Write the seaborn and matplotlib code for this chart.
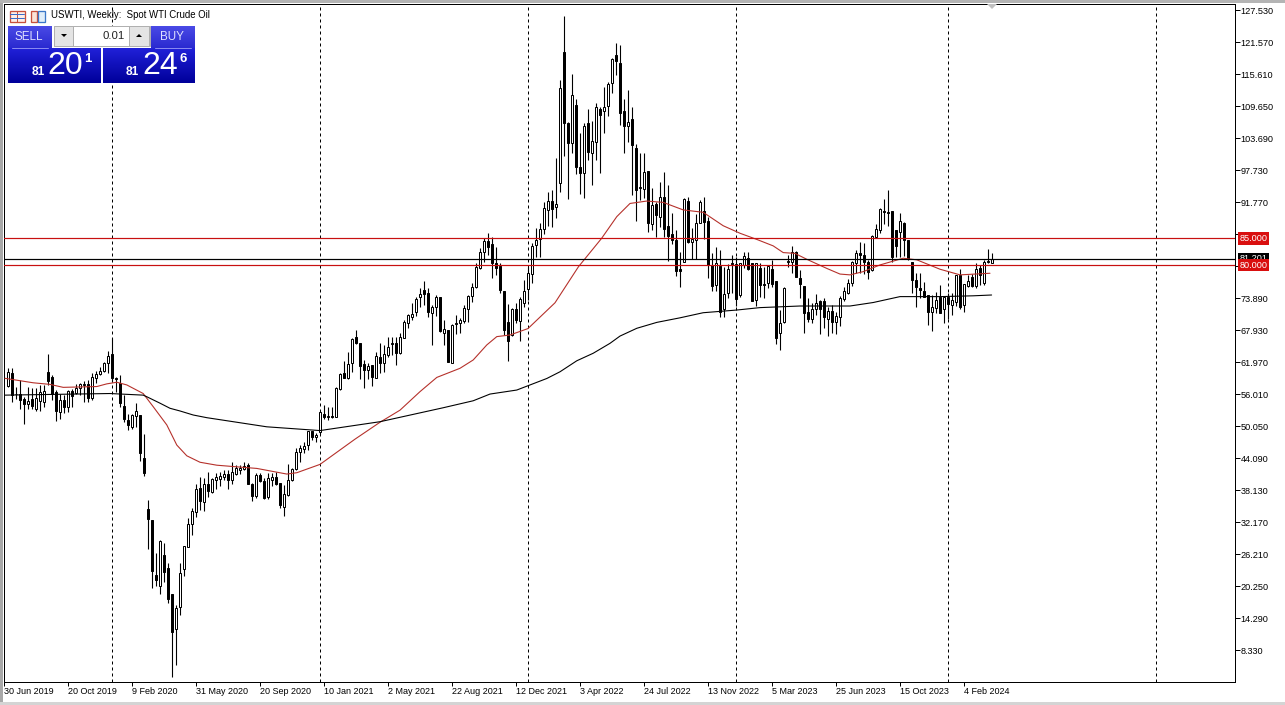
import numpy as np
import pandas as pd
import matplotlib
matplotlib.use('Agg')
import matplotlib.pyplot as plt
from matplotlib.patches import Rectangle, Polygon
import seaborn as sns

# weekly candles
opens = [
    57.5, 60.0, 56.1, 56.1, 55.1, 54.1, 55.0, 53.3, 54.8, 54.6,
    60.05, 59.1, 56.45, 52.7, 54.9, 53.65, 56.65, 56.25, 57.05, 57.6,
    57.8, 55.3, 59.05, 59.75, 60.35, 61.7, 63.45, 58.9, 58.0, 53.8,
    51.2, 49.95, 52.0, 52.1, 44.1, 34.6, 32.55, 22.3, 20.3, 26.0,
    23.55, 18.75, 12.3, 16.4, 23.35, 27.6, 31.75, 34.1, 38.45, 35.9,
    39.25, 37.8, 40.05, 40.25, 40.55, 41.05, 40.0, 41.1, 41.9, 42.05,
    42.8, 39.3, 37.0, 41.0, 39.8, 36.75, 40.05, 40.6, 39.4, 34.9,
    37.2, 39.95, 42.05, 45.15, 45.75, 46.5, 49.2, 47.95, 48.95, 52.3,
    51.8, 51.9, 51.8, 56.95, 59.85, 58.95, 61.85, 66.7, 65.6, 61.6,
    60.5, 61.4, 59.05, 62.85, 61.85, 63.35, 65.4, 65.5, 63.6, 66.5,
    69.2, 70.4, 71.35, 74.15, 75.3, 74.75, 71.15, 72.3, 74.0, 67.45,
    67.95, 61.85, 69.05, 69.2, 69.55, 71.8, 74.25, 76.0, 79.55, 82.5,
    84.5, 83.95, 80.35, 79.85, 75.2, 69.35, 67.0, 71.9, 69.6, 73.0,
    75.5, 78.35, 83.7, 84.8, 86.75, 90.25, 91.95, 90.9, 95.35, 119.65,
    106.55, 102.8, 109.85, 98.25, 97.1, 106.4, 100.95, 103.0, 109.1, 108.8,
    109.7, 113.85, 119.15, 117.6, 108.7, 106.0, 107.2, 101.75, 94.4, 94.2,
    97.6, 87.6, 91.4, 89.05, 92.65, 87.3, 85.8, 84.7, 79.35, 80.65,
    92.0, 84.4, 84.7, 87.9, 90.1, 88.3, 80.05, 76.3, 79.85, 71.85,
    74.75, 80.5, 80.2, 74.4, 80.05, 81.3, 80.35, 73.5, 79.55, 76.5,
    76.6, 79.3, 77.05, 67.3, 69.35, 80.65, 80.65, 82.4, 77.6, 76.1,
    71.2, 70.05, 71.8, 73.35, 73.4, 69.9, 71.45, 69.5, 70.4, 73.65,
    74.9, 76.75, 80.35, 82.35, 81.9, 80.65, 79.1, 85.3, 86.55, 90.15,
    89.85, 90.1, 86.55, 86.25, 87.95, 84.7, 80.55, 77.25, 75.7, 75.25,
    74.45, 71.3, 72.0, 74.0, 71.9, 74.15, 72.6, 73.2, 78.2, 72.6,
    76.15, 77.85, 76.15, 79.55, 76.6, 80.6, 80.4,
]
highs = [
    60.8, 60.8, 57.4, 58.7, 55.5, 57.4, 57.1, 57.1, 57.7, 57.7,
    63.5, 59.55, 56.8, 56.1, 55.8, 56.8, 56.9, 57.8, 58.0, 58.45,
    58.6, 59.85, 60.35, 61.1, 62.0, 64.0, 66.4, 59.25, 59.55, 55.8,
    52.3, 52.3, 54.3, 52.1, 48.6, 36.25, 32.55, 26.35, 28.8, 28.3,
    24.5, 18.75, 16.7, 24.6, 27.7, 33.0, 34.7, 39.25, 40.6, 40.3,
    41.55, 40.3, 41.25, 41.55, 41.85, 41.85, 43.3, 42.8, 42.8, 43.4,
    43.2, 39.5, 41.35, 41.25, 40.3, 41.25, 41.35, 41.55, 39.4, 39.05,
    43.0, 42.2, 46.0, 46.5, 47.1, 49.2, 49.2, 48.7, 52.9, 53.95,
    53.65, 53.65, 57.4, 59.85, 62.2, 63.9, 66.4, 67.95, 65.6, 62.35,
    61.85, 61.4, 63.75, 65.45, 65.15, 66.7, 66.55, 66.7, 67.4, 69.8,
    71.0, 72.9, 74.0, 75.8, 77.05, 75.7, 72.6, 74.45, 74.0, 69.8,
    67.95, 69.05, 70.7, 70.1, 72.6, 74.45, 76.6, 80.35, 83.15, 85.0,
    85.95, 85.3, 83.45, 80.35, 75.2, 72.8, 71.95, 72.9, 74.0, 77.25,
    79.7, 84.05, 86.85, 87.8, 91.8, 93.7, 94.0, 99.9, 114.5, 126.4,
    106.7, 115.7, 110.9, 104.55, 106.4, 109.05, 106.85, 110.25, 109.4, 113.25,
    114.2, 118.65, 121.3, 121.0, 110.9, 112.65, 109.5, 102.5, 100.85, 100.85,
    97.6, 94.3, 91.85, 95.55, 97.3, 94.95, 89.65, 86.55, 82.4, 92.45,
    92.65, 86.85, 89.5, 92.15, 92.75, 89.05, 82.2, 83.3, 82.8, 79.7,
    80.15, 81.9, 81.6, 80.5, 82.5, 82.5, 80.35, 80.5, 80.35, 79.6,
    80.05, 81.0, 77.05, 71.65, 75.9, 81.9, 83.6, 82.65, 79.1, 76.1,
    73.8, 72.9, 74.6, 73.55, 73.8, 72.15, 72.6, 71.35, 74.25, 76.0,
    77.45, 80.8, 82.85, 84.4, 84.05, 81.0, 85.6, 87.7, 90.6, 92.25,
    94.0, 90.1, 86.55, 89.65, 88.1, 84.7, 80.65, 78.5, 78.6, 76.95,
    74.45, 74.45, 75.1, 76.25, 74.15, 74.75, 74.75, 78.2, 79.2, 76.45,
    78.2, 78.3, 80.35, 80.05, 81.0, 83.0, 82.2,
]
lows = [
    57.4, 54.6, 55.0, 53.3, 50.4, 53.3, 53.3, 52.9, 52.85, 53.65,
    57.7, 54.9, 51.05, 51.35, 52.4, 52.7, 53.65, 55.95, 55.8, 54.6,
    54.6, 54.9, 58.0, 59.55, 60.05, 59.85, 58.3, 56.45, 53.65, 50.85,
    49.3, 49.4, 49.95, 43.6, 40.75, 27.15, 19.95, 20.25, 18.75, 21.05,
    17.15, 3.35, 5.55, 14.85, 22.1, 27.6, 29.75, 33.15, 34.4, 34.2,
    36.9, 37.65, 38.3, 38.9, 40.0, 38.3, 39.25, 40.95, 41.05, 41.85,
    39.2, 36.0, 36.6, 39.55, 36.4, 36.4, 38.95, 39.05, 34.7, 33.35,
    37.0, 39.85, 41.85, 43.4, 44.95, 45.6, 47.45, 47.15, 48.6, 51.3,
    51.2, 51.5, 51.65, 56.75, 58.9, 58.75, 60.2, 65.3, 58.75, 57.2,
    58.75, 57.55, 58.9, 60.0, 60.2, 62.85, 63.3, 61.4, 63.45, 66.4,
    68.25, 69.8, 70.55, 72.3, 72.6, 70.4, 65.15, 70.55, 67.6, 65.15,
    62.0, 61.7, 67.2, 67.45, 69.2, 69.5, 73.2, 75.7, 79.3, 80.65,
    81.9, 77.55, 78.2, 74.9, 67.0, 62.2, 66.8, 69.2, 65.95, 72.15,
    73.5, 76.65, 81.6, 81.6, 85.8, 87.3, 87.2, 88.85, 93.7, 100.4,
    92.25, 100.95, 97.0, 93.25, 92.6, 99.6, 94.95, 99.6, 97.1, 104.55,
    107.85, 112.0, 115.4, 106.1, 100.95, 103.0, 93.05, 88.3, 92.15, 92.45,
    86.25, 86.55, 85.3, 87.2, 85.3, 80.85, 83.95, 78.0, 76.0, 80.65,
    84.2, 81.1, 81.1, 87.8, 84.8, 77.55, 75.2, 75.2, 70.4, 70.4,
    73.8, 74.75, 72.4, 74.15, 79.4, 79.1, 73.3, 72.4, 74.0, 73.8,
    75.7, 76.0, 65.3, 64.2, 69.15, 79.6, 78.6, 77.75, 73.8, 67.45,
    69.5, 69.15, 70.7, 67.15, 68.25, 66.9, 67.3, 67.15, 68.7, 73.4,
    74.65, 76.15, 78.5, 78.5, 78.35, 77.45, 79.0, 85.2, 85.95, 87.6,
    87.35, 80.65, 81.45, 81.6, 81.7, 81.0, 74.75, 72.3, 73.8, 74.0,
    68.85, 67.8, 71.05, 71.05, 69.3, 70.0, 70.7, 72.4, 71.8, 71.35,
    76.0, 76.0, 75.7, 76.3, 76.3, 80.35, 80.35,
]
closes = [
    60.2, 55.8, 56.0, 54.9, 54.1, 54.8, 53.8, 55.2, 56.45, 56.6,
    58.4, 56.1, 52.9, 54.85, 53.65, 56.6, 55.7, 57.05, 57.8, 57.8,
    55.2, 59.25, 59.7, 60.35, 61.7, 63.15, 59.05, 58.75, 54.3, 51.35,
    50.25, 52.1, 52.9, 45.1, 41.35, 32.8, 23.1, 21.35, 28.65, 22.85,
    17.9, 11.7, 16.1, 22.6, 27.7, 31.8, 34.25, 38.3, 36.1, 39.25,
    37.95, 40.1, 40.55, 40.75, 41.05, 40.0, 41.5, 42.3, 42.2, 42.65,
    39.2, 37.1, 41.0, 39.8, 36.7, 40.3, 40.55, 39.25, 35.35, 37.4,
    40.0, 42.0, 45.15, 45.9, 46.4, 49.2, 48.05, 48.4, 52.65, 51.8,
    51.9, 51.7, 57.2, 59.65, 58.9, 61.6, 66.25, 65.6, 61.3, 60.5,
    61.2, 59.25, 63.1, 61.85, 63.45, 64.8, 65.5, 63.7, 66.55, 69.5,
    70.65, 71.0, 73.7, 74.6, 74.7, 71.35, 72.3, 74.0, 67.75, 68.05,
    62.0, 68.85, 69.2, 69.8, 71.95, 74.25, 75.9, 79.7, 82.5, 84.5,
    83.45, 80.35, 79.55, 75.4, 67.95, 65.95, 71.8, 69.8, 73.7, 75.2,
    78.5, 83.55, 84.7, 86.75, 90.6, 92.0, 90.4, 91.35, 112.95, 106.4,
    102.8, 111.7, 98.35, 97.25, 105.9, 101.15, 103.15, 109.4, 108.05, 109.5,
    113.75, 118.4, 118.1, 108.4, 106.0, 106.6, 102.4, 94.0, 94.5, 97.3,
    87.8, 91.2, 89.35, 92.65, 86.75, 85.45, 84.7, 78.9, 79.0, 92.25,
    84.4, 84.8, 87.9, 91.75, 88.1, 80.05, 76.1, 80.35, 71.35, 74.65,
    79.3, 80.2, 73.75, 80.35, 81.65, 79.2, 73.4, 80.35, 76.3, 76.25,
    79.85, 76.5, 66.5, 69.15, 75.7, 80.8, 82.5, 77.85, 76.5, 71.15,
    70.0, 71.8, 72.9, 71.85, 70.4, 71.55, 69.5, 70.55, 73.8, 75.2,
    76.6, 80.55, 82.2, 81.9, 80.65, 78.7, 85.5, 86.75, 90.45, 89.85,
    89.8, 81.45, 83.6, 88.2, 84.7, 81.1, 77.25, 76.0, 75.4, 74.0,
    71.3, 72.15, 73.5, 71.15, 74.0, 72.8, 73.5, 78.2, 72.3, 76.45,
    77.05, 76.2, 79.25, 78.2, 80.55, 80.7, 81.2,
]

# moving averages
red_ma_bar = [-0.75, 6.3, 10.5, 13.8, 22.2, 24.7, 27.2, 29.7, 33.8, 36.3, 39.7, 42.2, 44.7, 48,
              52.2, 56.3, 62.2, 69.7, 72.2, 78, 86.75, 93, 98, 103, 107.2, 113, 116.3, 119.7,
              122.2, 125.5, 130, 136.75, 142.6, 148.4, 152.2, 155.5, 159.7, 163.8, 168.8, 173.8,
              178.8, 183, 187.2, 191.3, 193.8, 196.75, 199.7, 204.7, 208, 210.5, 213.8, 218,
              223.8, 227.2, 233, 238, 245.5]
red_ma_val = [58.93, 58.1, 57.8, 57.25, 57.4, 57.9, 58.2, 57.7, 56.1, 53.65, 50.25, 46.5, 44.5, 43.3,
              42.75, 42.5, 42.15, 41.1, 41.35, 42.9, 47.6, 50.75, 53.0, 56.45, 59.1, 60.8, 62.35, 65.15,
              66.7, 67.0, 68.2, 73.0, 79.7, 85.0, 89.05, 91.5, 91.95, 91.7, 90.3, 89.85,
              87.35, 85.95, 84.8, 83.6, 82.35, 82.2, 81.1, 79.4, 78.35, 78.2, 78.8, 80.05,
              81.3, 81.0, 79.25, 78.2, 78.5]
black_ma_bar = [-0.75, 25.5, 33.8, 34.7, 38, 40.5, 43, 46.3, 49.7, 64.7, 78, 93, 108.8, 116.3, 120.5, 127.2,
                134.7, 138, 142.2, 146.3, 150.5, 153, 157.2, 162.2, 168, 173.8, 182.2, 188, 198,
                210.5, 216.3, 223, 233, 241.3, 245.9]
black_ma_val = [55.8, 56.1, 55.8, 55.5, 54.3, 53.35, 52.85, 52.1, 51.6, 49.9, 49.2, 50.85, 53.45, 54.75, 56.0, 56.75,
                58.9, 60.15, 62.2, 63.6, 65.45, 66.8, 68.25, 69.35, 70.2, 71.15, 71.65, 72.1, 72.4,
                72.4, 73.05, 74.15, 74.15, 74.3, 74.45]

# axis labels and levels
date_labels = ['30 Jun 2019', '20 Oct 2019', '9 Feb 2020', '31 May 2020', '20 Sep 2020', '10 Jan 2021',
               '2 May 2021', '22 Aug 2021', '12 Dec 2021', '3 Apr 2022', '24 Jul 2022', '13 Nov 2022',
               '5 Mar 2023', '25 Jun 2023', '15 Oct 2023', '4 Feb 2024']
date_bars = [-1, 15, 31, 47, 63, 79, 95, 111, 127, 143, 159, 175, 191, 207, 223, 239]
year_bars = [26, 78, 130, 182, 235, 287]
price_ticks = [127.53, 121.57, 115.61, 109.65, 103.69, 97.73, 91.77, 85.81, 79.85, 73.89, 67.93,
               61.97, 56.01, 50.05, 44.09, 38.13, 32.17, 26.21, 20.25, 14.29, 8.33]
red_levels = [85.0, 80.0]
last_price = 81.201

sns.set_style('white')
plt.rcParams['font.family'] = ['Liberation Sans', 'DejaVu Sans']

W, H = 1285, 705
fig = plt.figure(figsize=(W / 100, H / 100), dpi=100, facecolor='white')
ax = fig.add_axes([4 / W, (H - 682) / H, (1235 - 4) / W, (682 - 4) / H])
px = 0.72  # one pixel in points

# vertical year separators
for b in year_bars:
    ax.axvline(b, color='black', lw=px, ls=(0, (3, 3)), zorder=1)

# candles
bars = pd.DataFrame({'open': opens, 'high': highs, 'low': lows, 'close': closes})
bars['bar'] = bars.index
up = bars[bars['close'] >= bars['open']]
down = bars[bars['close'] < bars['open']]
ax.vlines(bars['bar'], bars['low'], bars['high'], color='black', lw=px * 1.1, zorder=2)
ax.bar(up['bar'], up['close'] - up['open'], bottom=up['open'], width=0.6,
       facecolor='white', edgecolor='black', linewidth=px, zorder=3)
ax.bar(down['bar'], down['close'] - down['open'], bottom=down['open'], width=0.6,
       facecolor='black', edgecolor='black', linewidth=px, zorder=3)

# moving averages
sns.lineplot(x=red_ma_bar, y=red_ma_val, ax=ax, color='#b5302a', lw=px * 1.1, estimator=None, sort=False, zorder=4)
sns.lineplot(x=black_ma_bar, y=black_ma_val, ax=ax, color='black', lw=px * 1.1, estimator=None, sort=False, zorder=4)

# horizontal levels
ax.axhline(last_price, color='black', lw=px * 1.2, zorder=5)
for lv in red_levels:
    ax.axhline(lv, color='#c81010', lw=px * 1.2, zorder=5)

ax.set_xlim(-1, 306.75)
ax.set_ylim(2.37, 128.65)
ax.set_xlabel('')
ax.set_ylabel('')

ax.yaxis.tick_right()
ax.set_yticks(price_ticks)
ax.set_yticklabels([f'{p:.3f}' for p in price_ticks])
ax.set_xticks(date_bars)
ax.set_xticklabels(date_labels, ha='left')
ax.tick_params(axis='y', length=3.6, width=px, color='black', labelsize=6.6, labelcolor='black', pad=0.6, right=True)
ax.tick_params(axis='x', length=3, width=px, color='black', labelsize=6.5, labelcolor='black', pad=0.8, bottom=True)
for side in ax.spines.values():
    side.set_linewidth(px)
    side.set_color('black')

# price tags on the right scale
tag = ax.get_yaxis_transform()
ax.text(1.0036, last_price, f'{last_price:.3f}', transform=tag, color='white', fontsize=6.6, va='center',
        bbox=dict(fc='black', ec='none', pad=1.2), zorder=6, clip_on=False)
for lv in red_levels:
    ax.text(1.0036, lv, f'{lv:.3f}', transform=tag, color='white', fontsize=6.6, va='center',
            bbox=dict(fc='#d90f0f', ec='none', pad=1.2), zorder=7, clip_on=False)

# window furniture and trade panel, in screen pixels
ov = fig.add_axes([0, 0, 1, 1], facecolor='none')
ov.axis('off')


def gradient(x0, y0, x1, y1, top, bottom):
    c0 = np.array(matplotlib.colors.to_rgb(top))
    c1 = np.array(matplotlib.colors.to_rgb(bottom))
    t = np.linspace(0, 1, 32)[:, None, None]
    ov.imshow(c0[None, None, :] * (1 - t) + c1[None, None, :] * t, extent=(x0, x1, y1, y0),
              aspect='auto', zorder=2, interpolation='bilinear')


ov.add_patch(Rectangle((0, 0), 3, H, fc='#a8a8a8', ec='none'))
ov.add_patch(Rectangle((0, 0), W, 3, fc='#b4b4b4', ec='none'))
ov.add_patch(Rectangle((0, 702), W, 3, fc='#d4d4d4', ec='none'))
ov.add_patch(Polygon([(987, 4), (997, 4), (992, 9)], fc='#c0c0c0', ec='none'))

# small toolbar icons
ov.add_patch(Rectangle((9.5, 10.5), 15, 11, fc='#fdeee8', ec='#c8503c', lw=px * 1.3))
ov.plot([17, 17], [10.5, 21.5], color='#c8503c', lw=px)
ov.plot([10, 24], [14.2, 14.2], color='#3c6cc8', lw=px)
ov.plot([10, 24], [17.8, 17.8], color='#3c6cc8', lw=px)
ov.add_patch(Rectangle((30.5, 10.5), 6, 11, fc='#fbe4d8', ec='#c8503c', lw=px * 1.3))
ov.add_patch(Rectangle((37.5, 10.5), 7, 11, fc='#e0eefa', ec='#3c78c8', lw=px * 1.3))
ov.text(51, 15.5, 'USWTI, Weekly:  Spot WTI Crude Oil', fontsize=6.9, va='center', ha='left', color='black')

# sell / buy buttons
gradient(8, 26, 52, 48, '#4a4ae6', '#2a2ad0')
gradient(151, 26, 195, 48, '#4a4ae6', '#2a2ad0')
gradient(8, 48, 101, 83, '#2020d8', '#00009a')
gradient(103, 48, 195, 83, '#2020d8', '#00009a')
ov.add_patch(Rectangle((54, 26), 96, 20, fc='white', ec='#b0b0b0', lw=px, zorder=3))
ov.add_patch(Rectangle((54, 26), 19, 20, fc='#e4e4e4', ec='#b0b0b0', lw=px, zorder=3))
ov.add_patch(Rectangle((129, 26), 20, 20, fc='#e4e4e4', ec='#b0b0b0', lw=px, zorder=3))
ov.add_patch(Polygon([(61, 34), (67, 34), (64, 37)], fc='black', ec='none', zorder=4))
ov.add_patch(Polygon([(136, 37), (142, 37), (139, 34)], fc='black', ec='none', zorder=4))
ov.plot([12, 48], [47.5, 47.5], color='#8888f0', lw=px, zorder=3)
ov.plot([155, 191], [47.5, 47.5], color='#8888f0', lw=px, zorder=3)
ov.text(125, 36, '0.01', fontsize=8.2, ha='right', va='center', color='#222222', zorder=4)
ov.text(29, 36.5, 'SELL', fontsize=8.4, ha='center', va='center', color='#dfe0ff', zorder=4)
ov.text(172, 36.5, 'BUY', fontsize=8.4, ha='center', va='center', color='#dfe0ff', zorder=4)
ov.text(38, 72, '81', fontsize=8.6, ha='center', va='center', color='white', weight='bold', zorder=4)
ov.text(65.5, 66, '20', fontsize=23, ha='center', va='center', color='white', zorder=4)
ov.text(88, 59, '1', fontsize=9.5, ha='center', va='center', color='white', weight='bold', zorder=4)
ov.text(132, 72, '81', fontsize=8.6, ha='center', va='center', color='white', weight='bold', zorder=4)
ov.text(160, 66, '24', fontsize=23, ha='center', va='center', color='white', zorder=4)
ov.text(183, 59, '6', fontsize=9.5, ha='center', va='center', color='white', weight='bold', zorder=4)

ov.set_xlim(0, W)
ov.set_ylim(H, 0)

fig.savefig('out.png', dpi=100)
plt.close(fig)
